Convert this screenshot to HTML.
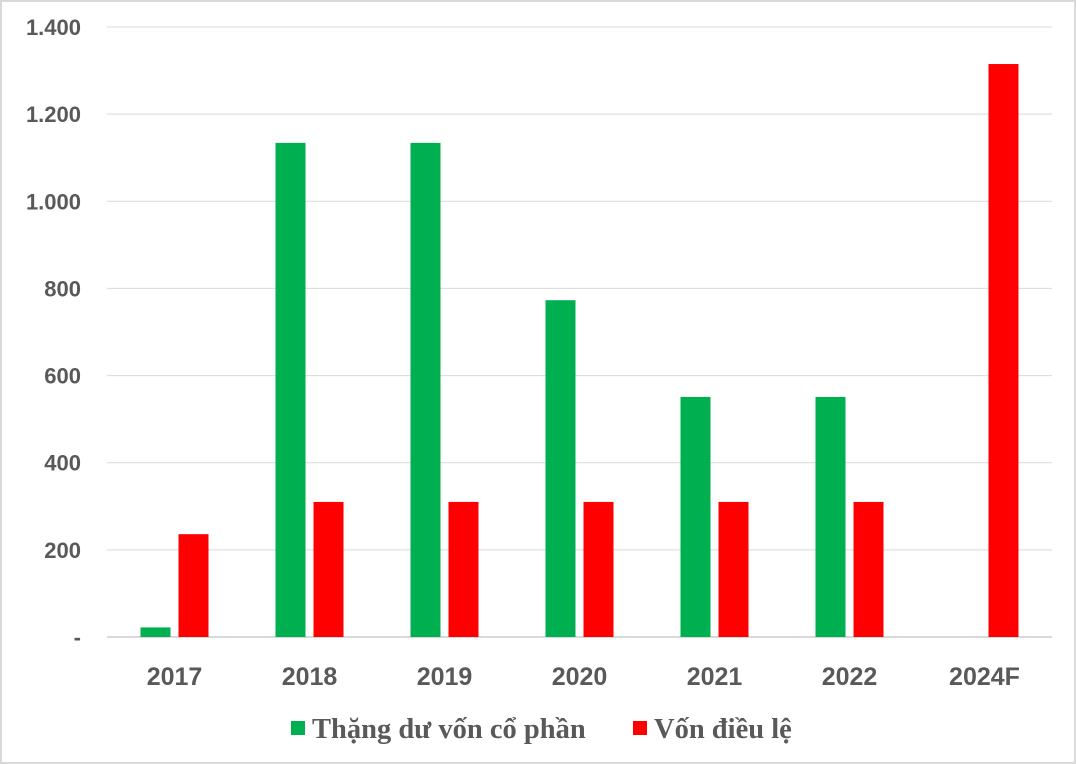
<!DOCTYPE html>
<html><head><meta charset="utf-8"><style>
body{margin:0;background:#fff;}
svg{display:block;}
</style></head><body>
<svg id="chart" width="1076" height="764" xmlns="http://www.w3.org/2000/svg">
<rect x="1" y="1" width="1074" height="762" fill="#fff" stroke="#d9d9d9" stroke-width="2"/>
<g id="grid"></g><g id="bars"></g><g id="xlabels"></g><g id="ylabels"></g>
<g>
<rect x="291" y="721" width="14" height="14" fill="#00b050"/>
<text x="312" y="738" font-family="Liberation Serif, serif" font-weight="bold" font-size="28.5" fill="#595959">Thặng dư vốn cổ phần</text>
<rect x="633" y="721" width="14" height="14" fill="#ff0000"/>
<text x="654" y="738" font-family="Liberation Serif, serif" font-weight="bold" font-size="28.5" fill="#595959">Vốn điều lệ</text>
</g>
</svg>
<script>
const categories=["2017","2018","2019","2020","2021","2022","2024F"];
const surplus=[22,1134,1134,773,551,551,0];
const charter=[236,310,310,310,310,310,1315];
const yTicks=[0,200,400,600,800,1000,1200,1400];
const yTickLabels=["-","200","400","600","800","1.000","1.200","1.400"];
const NS="http://www.w3.org/2000/svg";
const x0=107,x1=1052,y0=637,y1=27,maxV=1400;
const step=(x1-x0)/categories.length;
function y(v){return y0-(v/maxV)*(y0-y1);}
function cx(i){return x0+step*(i+0.5);}
function mk(tag,attrs,parent){const e=document.createElementNS(NS,tag);for(const k in attrs)e.setAttribute(k,attrs[k]);document.getElementById(parent).appendChild(e);return e;}
yTicks.forEach((t,i)=>{
 const l=mk('line',{x1:x0,x2:x1,y1:y(t),y2:y(t),stroke:'#d9d9d9','stroke-width':t===0?2:1},'grid');
 
 
 const tx=mk('text',{x:81,y:y(t)+8,'text-anchor':'end','font-family':'Liberation Sans, sans-serif','font-weight':'bold','font-size':'22',fill:'#595959'},'ylabels');
 tx.textContent=yTickLabels[i];
 
 
});
categories.forEach((c,i)=>{
 const g=mk('rect',{x:cx(i)-34,y:y(surplus[i]),width:30,height:y0-y(surplus[i]),fill:'#00b050'},'bars');
 
 
 const r=mk('rect',{x:cx(i)+4,y:y(charter[i]),width:30,height:y0-y(charter[i]),fill:'#ff0000'},'bars');
 
 
 const t=mk('text',{x:cx(i),y:685,'text-anchor':'middle','font-family':'Liberation Sans, sans-serif','font-weight':'bold','font-size':'25',fill:'#595959'},'xlabels');
 t.textContent=c;
 
 
});
</script>
</body></html>
